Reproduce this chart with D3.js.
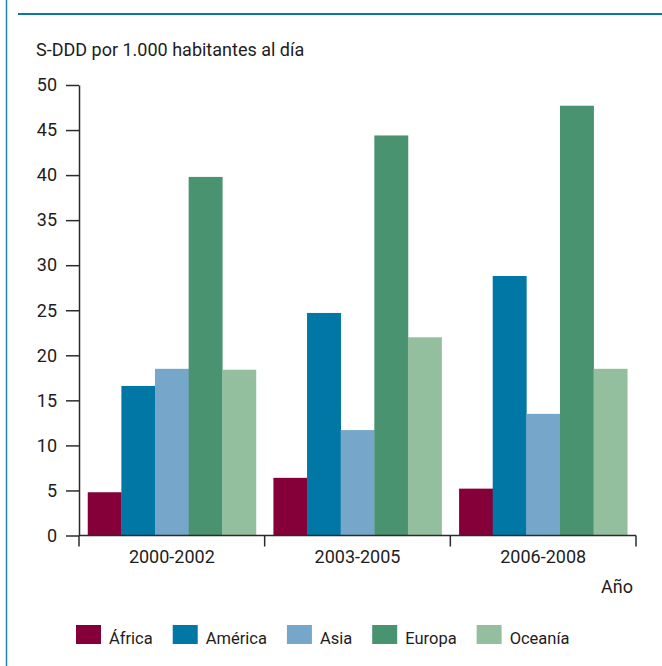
<!DOCTYPE html>
<html>
<head>
<meta charset="utf-8">
<script src="https://cdn.jsdelivr.net/npm/d3@7"></script>
<style>
  body { margin: 0; background: #fff; }
  text { font-family: "Roboto", "Liberation Sans", sans-serif; fill: #1e1c1d; }
</style>
</head>
<body>
<div id="chart"></div>
<script>
// periods on x
let periods = ["2000-2002", "2003-2005", "2006-2008"];
let regions = ["África", "América", "Asia", "Europa", "Oceanía"];
let regionColors = ["#850038", "#0077a5", "#76a7cb", "#4a9370", "#94bf9f"];

// S-DDD per 1000 inhabitants per day, one array per region (same order as periods)
let africa  = [4.8, 6.4, 5.2];
let america = [16.6, 24.7, 28.8];
let asia    = [18.5, 11.7, 13.5];
let europa  = [39.8, 44.4, 47.7];
let oceania = [18.4, 22.0, 18.5];

let yTicks = [0, 5, 10, 15, 20, 25, 30, 35, 40, 45, 50];

let seriesValues = [africa, america, asia, europa, oceania];

let width = 662, height = 666;
let margin = {top: 85, right: 26, bottom: 130, left: 79};

let svg = d3.select("#chart")
  .append("svg")
  .attr("width", width)
  .attr("height", height);

// frame lines
svg.append("line")
  .attr("x1", 6.5).attr("x2", 6.5)
  .attr("y1", 0).attr("y2", height)
  .attr("stroke", "#1b84b0").attr("stroke-width", 1.5);
svg.append("line")
  .attr("x1", 18).attr("x2", width)
  .attr("y1", 14).attr("y2", 14)
  .attr("stroke", "#0a77a6").attr("stroke-width", 2);

let x0 = d3.scaleBand()
  .domain(periods)
  .range([margin.left, width - margin.right])
  .paddingInner(0).paddingOuter(0);

let x1 = d3.scaleBand()
  .domain(regions)
  .range([0, x0.bandwidth()])
  .paddingInner(0).paddingOuter(0.26);

let y = d3.scaleLinear()
  .domain([0, 50])
  .range([height - margin.bottom - 0.5, margin.top]);

// table built from the arrays
let table = [];
periods.forEach(function(p, i) {
  regions.forEach(function(r, j) {
    table.push({period: p, region: r, value: seriesValues[j][i], color: regionColors[j]});
  });
});

//////BARS
svg.append("g").selectAll("rect")
  .data(table)
  .enter()
  .append("rect")
  .attr("x", function(d) { return x0(d.period) + x1(d.region); })
  .attr("width", x1.bandwidth() + 0.3)
  .attr("y", function(d) { return y(d.value); })
  .attr("height", function(d) { return y(0) - y(d.value); })
  .attr("fill", function(d) { return d.color; });

//////Y AXIS
let yAxis = svg.append("g")
  .attr("transform", "translate(" + margin.left + ",0)")
  .call(d3.axisLeft(y).tickValues(yTicks).tickSize(13).tickPadding(9).tickSizeOuter(0));
yAxis.select(".domain").attr("stroke", "#2b2b2b").attr("stroke-width", 1.5);
yAxis.selectAll(".tick line").attr("stroke", "#2b2b2b").attr("stroke-width", 1.5);
yAxis.selectAll(".tick text")
  .style("font-size", "18px")
  .style("font-family", "Roboto, 'Liberation Sans', sans-serif")
  .attr("fill", "#1e1c1d");

//////X AXIS (ticks at the period boundaries)
let xBase = svg.append("g");
xBase.append("line")
  .attr("x1", margin.left).attr("x2", width - margin.right)
  .attr("y1", y(0)).attr("y2", y(0))
  .attr("stroke", "#2b2b2b").attr("stroke-width", 1.5);

let bounds = periods.map(function(p) { return x0(p); }).concat([x0(periods[periods.length - 1]) + x0.bandwidth()]);
xBase.selectAll("line.sep")
  .data(bounds)
  .enter()
  .append("line")
  .attr("class", "sep")
  .attr("x1", function(d) { return d; }).attr("x2", function(d) { return d; })
  .attr("y1", y(0)).attr("y2", y(0) + 11)
  .attr("stroke", "#2b2b2b").attr("stroke-width", 1.5);

xBase.selectAll("text")
  .data(periods)
  .enter()
  .append("text")
  .attr("x", function(d) { return x0(d) + x0.bandwidth() / 2; })
  .attr("y", y(0) + 27)
  .attr("text-anchor", "middle")
  .style("font-size", "18px")
  .text(function(d) { return d; });

// axis titles
svg.append("text")
  .attr("x", 36).attr("y", 56)
  .style("font-size", "18px")
  .text("S-DDD por 1.000 habitantes al día");

svg.append("text")
  .attr("x", 633).attr("y", 593)
  .attr("text-anchor", "end")
  .style("font-size", "18px")
  .text("Año");

//////LEGEND
let legend = svg.append("g");
let lx = 76;
regions.forEach(function(r, i) {
  legend.append("rect")
    .attr("x", lx).attr("y", 625)
    .attr("width", 25).attr("height", 19)
    .attr("fill", regionColors[i]);
  let t = legend.append("text")
    .attr("x", lx + 33).attr("y", 644)
    .style("font-size", "16.5px")
    .text(r);
  lx += 33 + t.node().getComputedTextLength() + 20;
});
</script>
</body>
</html>
